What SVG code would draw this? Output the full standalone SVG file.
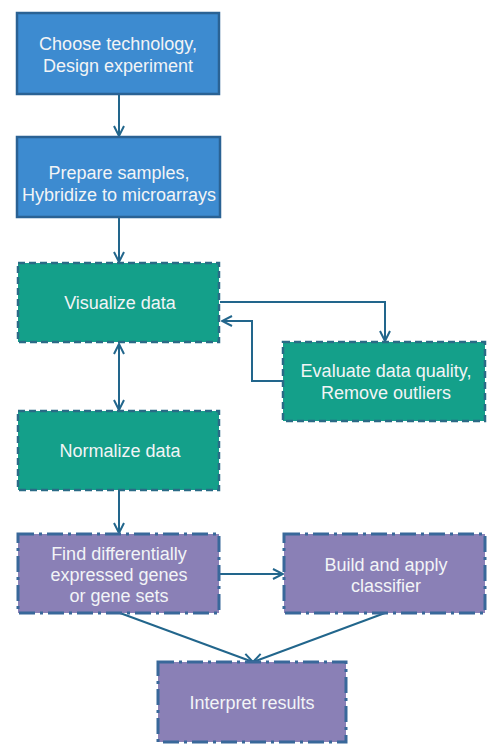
<svg xmlns="http://www.w3.org/2000/svg" width="497" height="754" viewBox="0 0 497 754">
<defs>
<style>
.blue{fill:#3d8bd0;stroke:#2a6294;stroke-width:2.5}
.teal{fill:#14a08a;stroke:#2a6b86;stroke-width:2.5;stroke-dasharray:7 4}
.purple{fill:#8a80b6;stroke:#39689a;stroke-width:3;stroke-dasharray:16 5 3 5}
.t{font-family:"Liberation Sans",Arial,sans-serif;font-size:18px;fill:#f2f4f6;text-anchor:middle}
.c{fill:none;stroke:#22668c;stroke-width:2}
</style>
<marker id="ah" viewBox="0 0 12 12" refX="11" refY="6" markerWidth="12" markerHeight="12" markerUnits="userSpaceOnUse" orient="auto-start-reverse">
<path d="M1,1 L11,6 L1,11" fill="none" stroke="#22668c" stroke-width="2"/>
</marker>
</defs>
<rect width="497" height="754" fill="#ffffff"/>
<g id="connectors">
<line class="c" x1="119" y1="94" x2="119" y2="136" marker-end="url(#ah)"/>
<line class="c" x1="119" y1="217" x2="119" y2="262" marker-end="url(#ah)"/>
<polyline class="c" points="220,302 385,302 385,341" marker-end="url(#ah)"/>
<polyline class="c" points="283,381 252,381 252,321 222,321" marker-end="url(#ah)"/>
<line class="c" x1="119" y1="344" x2="119" y2="410" marker-start="url(#ah)" marker-end="url(#ah)"/>
<line class="c" x1="119" y1="490" x2="119" y2="533" marker-end="url(#ah)"/>
<line class="c" x1="220" y1="574" x2="283" y2="574" marker-end="url(#ah)"/>
<line class="c" x1="120" y1="613" x2="253" y2="662" marker-end="url(#ah)"/>
<line class="c" x1="385" y1="613" x2="253" y2="662" marker-end="url(#ah)"/>
</g>
<g id="n1">
<rect class="blue" x="17" y="13" width="202" height="81"/>
<text class="t" x="118" y="50">Choose technology,</text>
<text class="t" x="118" y="72">Design experiment</text>
</g>
<g id="n2">
<rect class="blue" x="17" y="137" width="203" height="80"/>
<text class="t" x="119" y="179">Prepare samples,</text>
<text class="t" x="119" y="201">Hybridize to microarrays</text>
</g>
<g id="n3">
<rect class="teal" x="18" y="263" width="201" height="79"/>
<text class="t" x="120" y="309">Visualize data</text>
</g>
<g id="n4">
<rect class="teal" x="283" y="342" width="202" height="79"/>
<text class="t" x="386" y="377">Evaluate data quality,</text>
<text class="t" x="386" y="399">Remove outliers</text>
</g>
<g id="n5">
<rect class="teal" x="18" y="411" width="201" height="79"/>
<text class="t" x="120" y="457">Normalize data</text>
</g>
<g id="n6">
<rect class="purple" x="18" y="534" width="201" height="79"/>
<text class="t" x="119" y="560">Find differentially</text>
<text class="t" x="119" y="581">expressed genes</text>
<text class="t" x="119" y="602">or gene sets</text>
</g>
<g id="n7">
<rect class="purple" x="284" y="534" width="201" height="79"/>
<text class="t" x="386" y="571">Build and apply</text>
<text class="t" x="386" y="592">classifier</text>
</g>
<g id="n8">
<rect class="purple" x="158" y="662" width="188" height="80"/>
<text class="t" x="252" y="709">Interpret results</text>
</g>
</svg>
